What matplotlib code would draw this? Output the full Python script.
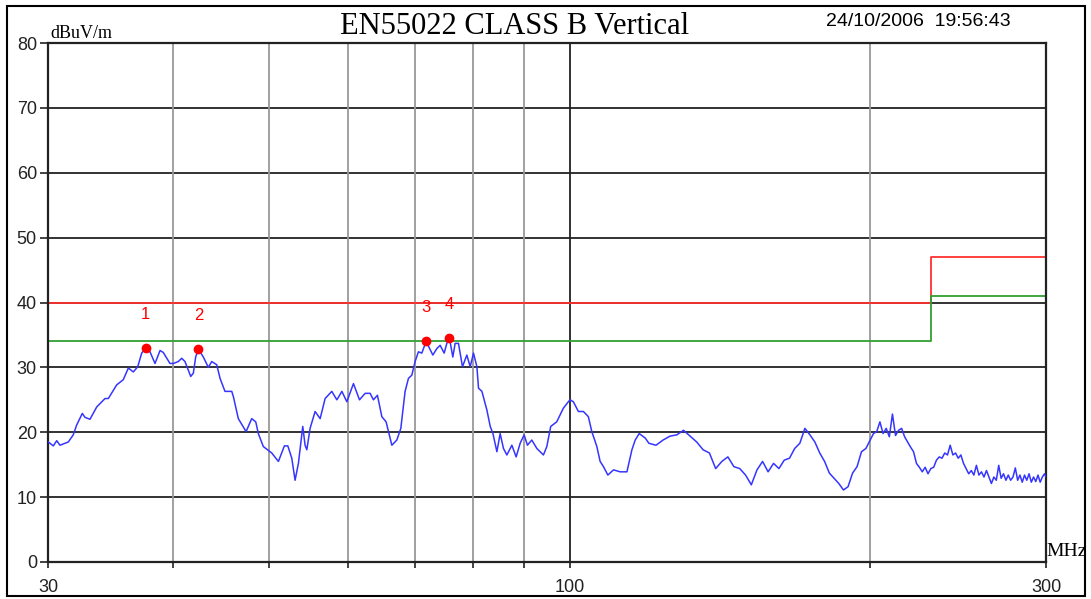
import matplotlib
matplotlib.use("Agg")
import matplotlib.pyplot as plt
from matplotlib.patches import Rectangle

freq_low = [30.02, 30.37, 30.61, 30.84, 31.44, 31.80, 32.05, 32.47, 32.67, 33.05,
            33.57, 34.22, 34.48, 35.15, 35.69, 36.11, 36.53, 36.90, 37.24, 37.59,
            37.96, 38.40, 38.85, 39.14, 39.75, 40.06, 40.52, 40.84, 41.15, 41.70,
            41.95, 42.18, 42.44, 42.93, 43.43, 43.77, 44.28, 44.62, 45.13, 45.84,
            46.01, 46.54, 47.38, 48.00, 48.45, 48.74, 49.30, 50.27, 51.05, 51.76,
            52.17, 52.65, 53.05, 53.46, 54.00, 54.29, 54.51, 54.92, 55.56, 56.21,
            56.86, 57.74, 58.42, 59.10, 59.78, 60.70, 61.55, 62.36, 63.08, 63.56,
            64.15, 64.81, 65.45, 66.32, 67.09, 67.71, 68.38, 68.91, 69.45, 69.98,
            70.51, 71.07, 71.78, 72.90, 73.58, 74.14, 74.83, 75.29, 75.75, 76.34,
            76.75, 77.34, 78.06, 78.85, 79.46, 80.07, 80.70, 81.00, 81.64, 82.59,
            83.22, 83.74, 84.51, 85.15, 85.80, 86.48, 87.48, 88.35, 89.17, 89.99,
            90.68, 91.60, 92.67, 94.09, 94.83, 95.69, 97.02, 98.51, 99.66, 100.06,
            100.82, 101.99, 103.18, 104.37, 105.20, 106.43, 107.24, 108.07, 109.17, 110.60,
            112.32, 114.08, 115.40, 116.28, 117.36, 119.02]
level_low = [18.5, 17.9, 18.7, 18.0, 18.5, 19.6, 21.1, 22.9, 22.3, 22.0,
             23.9, 25.2, 25.2, 27.3, 28.1, 29.9, 29.3, 30.1, 32.2, 33.0,
             32.4, 30.6, 32.6, 32.3, 30.6, 30.6, 30.9, 31.4, 30.9, 28.6,
             29.1, 31.6, 32.8, 31.6, 30.0, 30.9, 30.4, 28.3, 26.3, 26.3,
             25.5, 22.1, 20.1, 22.1, 21.6, 19.8, 17.8, 16.8, 15.5, 17.9,
             17.9, 16.0, 12.6, 15.2, 20.9, 18.0, 17.3, 20.6, 23.2, 22.1,
             25.2, 26.3, 25.0, 26.3, 24.7, 27.5, 25.0, 26.0, 26.0, 25.0,
             25.7, 22.4, 21.6, 18.0, 18.8, 20.6, 26.3, 28.3, 28.8, 30.9,
             32.4, 32.2, 34.0, 31.9, 32.9, 33.4, 32.2, 33.7, 34.5, 31.6,
             33.7, 33.7, 30.1, 31.9, 30.1, 32.2, 30.1, 26.8, 26.3, 23.4,
             20.9, 19.8, 17.0, 19.8, 17.5, 16.5, 18.0, 16.2, 18.3, 19.6,
             18.0, 18.8, 17.5, 16.5, 17.8, 20.9, 21.6, 23.7, 24.7, 25.0,
             24.7, 23.2, 23.2, 22.4, 20.1, 17.8, 15.5, 14.7, 13.4, 14.2,
             13.9, 13.9, 17.3, 18.8, 19.8, 19.1]

freq_mid = [120, 122, 124, 126, 128, 130, 132, 134, 136, 138,
            140, 142, 144, 146, 148, 150, 152, 154, 156, 158,
            160, 162, 164, 166, 168, 170, 172, 174, 176, 178,
            180, 182, 184, 186, 188, 190, 192, 194, 196, 198]
level_mid = [18.3, 18.0, 18.8, 19.4, 19.6, 20.3, 19.4, 18.5, 17.3, 16.8,
             14.4, 15.5, 16.2, 14.7, 14.4, 13.4, 11.9, 14.2, 15.5, 13.9,
             15.2, 14.4, 15.7, 16.0, 17.5, 18.3, 20.6, 19.6, 18.5, 16.8,
             15.5, 13.7, 12.9, 12.1, 11.1, 11.6, 13.7, 14.7, 17.0, 17.5]

freq_high = [200, 201.5, 203, 204.5, 206, 207.5, 209, 210.5, 212, 213.5,
             215, 216.5, 218, 219.5, 221, 222.5, 224, 225.5, 227, 228.5,
             230, 231.5, 233, 234.5, 236, 237.5, 239, 240.5, 242, 243.5,
             245, 246.5, 248, 249.5, 251, 252.5, 254, 255.5, 257, 258.5,
             260, 261.5, 263, 264.5, 266, 267.5, 269, 270.5, 272, 273.5,
             275, 276.5, 278, 279.5, 281, 282.5, 284, 285.5, 287, 288.5,
             290, 291.5, 293, 294.5, 296, 297.5, 299, 300]
level_high = [18.8, 19.8, 20.1, 21.6, 19.8, 20.6, 19.3, 22.8, 19.5, 20.3,
              20.6, 19.3, 18.5, 17.7, 17.0, 15.2, 14.6, 13.9, 14.6, 13.6,
              14.4, 14.6, 15.7, 16.2, 16.0, 16.8, 16.5, 18.0, 16.5, 16.8,
              16.0, 16.5, 15.2, 14.4, 13.6, 14.1, 13.4, 14.9, 13.4, 13.9,
              13.1, 14.1, 13.1, 12.1, 13.1, 12.6, 14.9, 12.9, 13.6, 12.6,
              13.4, 12.6, 13.1, 14.5, 12.6, 13.4, 12.3, 13.4, 12.6, 13.6,
              12.3, 13.1, 12.4, 13.4, 12.3, 13.1, 13.6, 13.1]

limit_freq = [30, 230, 230, 300]
limit_qp = [40, 40, 47, 47]
limit_margin = [34, 34, 41, 41]

peak_freq = [37.59, 42.44, 71.78, 75.75]
peak_level = [33.0, 32.8, 34.0, 34.5]
peak_labels = ["1", "2", "3", "4"]

y_ticks = [0, 10, 20, 30, 40, 50, 60, 70, 80]
x_grid_light = [40, 50, 60, 70, 80, 90, 200]
x_tick_pos = [30, 40, 50, 60, 70, 80, 90, 100, 200, 300]
x_tick_text = ["30", "", "", "", "", "", "", "100", "", "300"]

freq_mhz = freq_low + freq_mid + freq_high
level_dbuv = level_low + level_mid + level_high

# ---- figure ----
fig = plt.figure(figsize=(10.91, 5.99), dpi=100)
fig.patches.append(Rectangle((7 / 1091, 3 / 599), 1078 / 1091, 590 / 599,
                             transform=fig.transFigure, fill=False,
                             edgecolor="black", linewidth=1.5))
ax = fig.add_axes([48 / 1091, 37 / 599, 998 / 1091, 519 / 599])
ax.set_xscale("log")
ax.set_xlim(30, 300)
ax.set_ylim(0, 80)

for y in y_ticks[1:-1]:
    ax.axhline(y, color="#222222", lw=1.3, zorder=1)
for x in x_grid_light:
    ax.axvline(x, color="#999999", lw=1.3, zorder=1)
ax.axvline(100, color="#222222", lw=1.3, zorder=1)

ax.plot(limit_freq, limit_qp, color="#ff3030", lw=1.3, zorder=2)
ax.plot(limit_freq, limit_margin, color="#30a030", lw=1.3, zorder=2)
ax.plot(freq_mhz, level_dbuv, color="#3535ff", lw=1.1, zorder=3)
ax.plot(peak_freq, peak_level, "o", color="#ff0000", ms=6, zorder=4)
for f, l, t in zip(peak_freq, peak_level, peak_labels):
    ax.annotate(t, (f, l), xytext=(0, 19), textcoords="offset points",
                ha="center", va="bottom", color="#ff0000", fontsize=12,
                family="Liberation Sans")

for s in ax.spines.values():
    s.set_linewidth(1.6)
    s.set_color("#222222")

ax.set_yticks(y_ticks)
ax.set_yticklabels([str(v) for v in y_ticks])
ax.set_xticks(x_tick_pos)
ax.set_xticklabels(x_tick_text)
ax.xaxis.set_minor_locator(matplotlib.ticker.NullLocator())
ax.tick_params(axis="y", direction="out", length=6, width=1.2, pad=2,
               labelsize=13, colors="#222222")
ax.tick_params(axis="x", direction="out", length=4, width=1.2, pad=8,
               labelsize=13, colors="#222222")
for lab in ax.get_xticklabels() + ax.get_yticklabels():
    lab.set_family("Liberation Sans")

fig.text(515 / 1091, 1 - 26 / 599, "EN55022 CLASS B Vertical", ha="center",
         va="center", fontsize=22, family="Liberation Serif")
fig.text(826 / 1091, 1 - 22 / 599, "24/10/2006  19:56:43", ha="left",
         va="center", fontsize=14, family="Liberation Sans")
fig.text(50 / 1091, 1 - 33 / 599, "dBuV/m", ha="left", va="center",
         fontsize=13, family="Liberation Serif")
fig.text(1046 / 1091, 1 - 552 / 599, "MHz", ha="left", va="center",
         fontsize=14, family="Liberation Serif")

fig.savefig("out.png", dpi=100)
